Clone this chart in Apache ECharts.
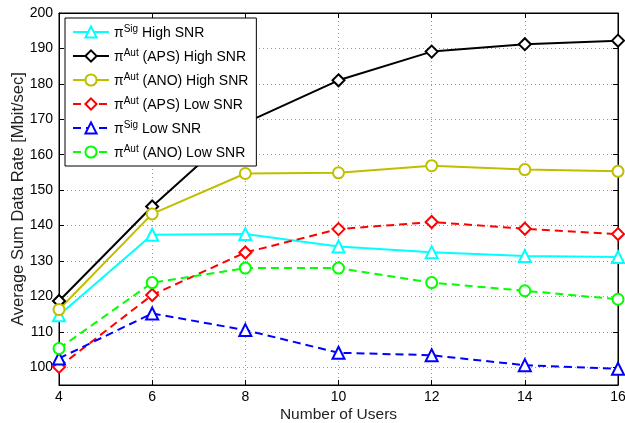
<!DOCTYPE html>
<html><head><meta charset="utf-8">
<script src="https://cdn.jsdelivr.net/npm/echarts@6/dist/echarts.min.js"></script>
<style>html,body{margin:0;padding:0;background:#fff}#c{width:625px;height:423px}</style>
</head><body><div id="c"></div>
<script>
const users = [4, 6, 8, 10, 12, 14, 16];
const sigHigh = [114.7, 137.4, 137.6, 134.1, 132.5, 131.4, 131.1];
const apsHigh = [118.7, 145.4, 169.0, 181.0, 189.1, 191.2, 192.2];
const anoHigh = [116.3, 143.3, 154.7, 154.9, 156.9, 155.8, 155.3];
const apsLow = [100.1, 120.4, 132.4, 139.0, 141.0, 139.1, 137.6];
const sigLow = [102.5, 115.2, 110.5, 104.1, 103.4, 100.6, 99.6];
const anoLow = [105.3, 123.9, 128.0, 128.0, 123.9, 121.6, 119.2];
const xTicks = [4, 6, 8, 10, 12, 14, 16];
const yTicks = [100, 110, 120, 130, 140, 150, 160, 170, 180, 190, 200];
const labels = {
  s1: '{n|π}{sup|Sig}{n| High SNR}',
  s2: '{n|π}{sup|Aut}{n| (APS) High SNR}',
  s3: '{n|π}{sup|Aut}{n| (ANO) High SNR}',
  s4: '{n|π}{sup|Aut}{n| (APS) Low SNR}',
  s5: '{n|π}{sup|Sig}{n| Low SNR}',
  s6: '{n|π}{sup|Aut}{n| (ANO) Low SNR}'
};
const FONT = 'Liberation Sans, Arial, sans-serif';
function mk(name, data, color, symbol, size, dashed) {
  return {
    name: name, type: 'line',
    data: users.map((u, i) => [u, data[i]]),
    symbol: symbol, symbolSize: size,
    lineStyle: { color: color, width: 2, type: dashed ? [8, 5] : 'solid' },
    itemStyle: { color: '#fff', borderColor: color, borderWidth: 2 },
    color: color,
    emphasis: { disabled: true },
    animation: false
  };
}
const chart = echarts.init(document.getElementById('c'));
const gridLine = { show: true, lineStyle: { color: '#999', type: [1, 3], width: 1 } };
const tick = { show: true, inside: true, length: 5, lineStyle: { color: '#000' } };
chart.setOption({
  backgroundColor: '#fff',
  animation: false,
  grid: { left: 59, right: 7, top: 13, bottom: 38, outerBoundsMode: 'none', containLabel: false, show: true, borderColor: '#000', borderWidth: 1, backgroundColor: 'transparent' },
  legend: {
    orient: 'vertical', left: 65, top: 18,
    backgroundColor: '#fff', borderColor: '#000', borderWidth: 1,
    padding: [6, 8, 6, 7], itemWidth: 36, itemHeight: 14, itemGap: 8,
    selectedMode: false,
    formatter: n => labels[n],
    textStyle: {
      color: '#000', fontFamily: FONT, fontSize: 14,
      rich: {
        n: { fontSize: 14, fontFamily: FONT, color: '#000', verticalAlign: 'bottom' },
        sup: { fontSize: 10, fontFamily: FONT, color: '#000', verticalAlign: 'bottom', padding: [0, 0, 6, 0] }
      }
    }
  },
  xAxis: [{
    type: 'value', min: 4, max: 16, interval: 2,
    name: 'Number of Users', nameLocation: 'middle', nameGap: 22, nameMoveOverlap: false,
    nameTextStyle: { fontFamily: FONT, fontSize: 15.5, color: '#222' },
    axisLine: { show: true, lineStyle: { color: '#000', width: 1 } },
    axisTick: tick,
    axisLabel: { fontFamily: FONT, fontSize: 14, color: '#000', margin: 5 },
    splitLine: gridLine
  }, {
    type: 'value', min: 4, max: 16, interval: 2, position: 'top',
    axisLine: { show: true, lineStyle: { color: '#000' } },
    axisTick: tick,
    axisLabel: { show: false }, splitLine: { show: false }
  }],
  yAxis: [{
    type: 'value', min: 95, max: 200,
    name: 'Average Sum Data Rate [Mbit/sec]', nameLocation: 'middle', nameGap: 32, nameMoveOverlap: false,
    nameTextStyle: { fontFamily: FONT, fontSize: 16.5, color: '#222' },
    axisLine: { show: true, lineStyle: { color: '#000' } },
    axisTick: Object.assign({ customValues: yTicks }, tick),
    axisLabel: { fontFamily: FONT, fontSize: 14, color: '#000', margin: 6, customValues: yTicks },
    splitLine: gridLine
  }, {
    type: 'value', min: 95, max: 200, position: 'right',
    axisLine: { show: true, lineStyle: { color: '#000' } },
    axisTick: Object.assign({ customValues: yTicks }, tick),
    axisLabel: { show: false }, splitLine: { show: false }
  }],
  series: [
    mk('s1', sigHigh, '#00FFFF', 'triangle', 12, false),
    mk('s2', apsHigh, '#000000', 'diamond', 12, false),
    mk('s3', anoHigh, '#BFBF00', 'circle', 11, false),
    mk('s4', apsLow, '#FF0000', 'diamond', 12, true),
    mk('s5', sigLow, '#0000FF', 'triangle', 12, true),
    mk('s6', anoLow, '#00FF00', 'circle', 11, true)
  ]
});
</script></body></html>
